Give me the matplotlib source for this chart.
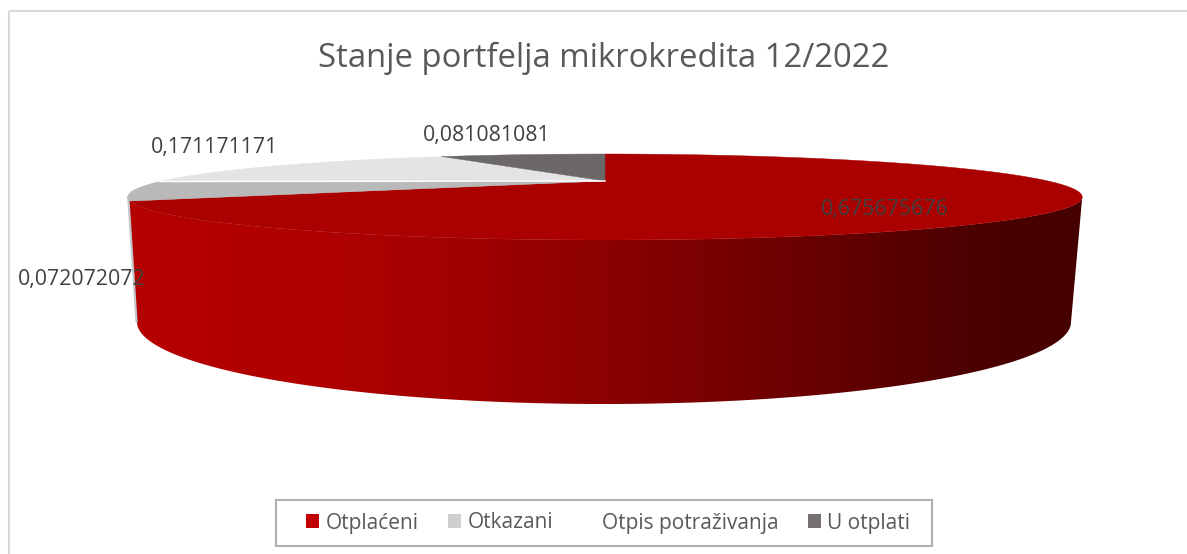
#!/usr/bin/env python3
import numpy as np
import matplotlib
matplotlib.use('Agg')
from matplotlib import pyplot as plt
from matplotlib.colors import LinearSegmentedColormap
from matplotlib.patches import Patch, PathPatch, Rectangle
from matplotlib.path import Path

categories = ['Otplaćeni', 'Otkazani', 'Otpis potraživanja', 'U otplati']
values = [0.675675676, 0.072072072, 0.171171171, 0.081081081]

top_colors = ['#aa0000', '#b9b9b9', '#e4e4e4', '#6c6868']
legend_colors = ['#c00000', '#d0cece', '#ffffff', '#767171']
label_pos = [(885, 209), (82, 279), (214, 147), (487, 135)]

plt.rcParams['font.family'] = ['Open Sans', 'DejaVu Sans']

W, H = 1187, 554
fig = plt.figure(figsize=(W / 100, H / 100), dpi=100)
ax = fig.add_axes([0, 0, 1, 1])
ax.set_xlim(0, W)
ax.set_ylim(H, 0)
ax.axis('off')

# pie apex, and the perspective of the top disc
cx, cy = 605, 181
k = 0.372
b = 443.0
a = 37.05
# bottom rim of the pie, drawn as a plain ellipse
bx, by, brx, bry = 604, 322, 467, 82


def rim(t):
    # t is the math angle in radians, gives pixels on the top disc
    d = 1 + k * np.sin(t)
    return cx + b * np.cos(t) / d, cy - a * np.sin(t) / d


# side wall silhouette: front of the top disc, then front of the bottom rim
t_left = np.pi + np.arcsin(k)
t_right = 2 * np.pi - np.arcsin(k)
t_front = np.linspace(t_left, t_right, 200)
top_x, top_y = rim(t_front)
s = np.linspace(0, np.pi, 200)
bot_x = bx + brx * np.cos(s)
bot_y = by + bry * np.sin(s)
wall = np.column_stack([np.r_[top_x, bot_x], np.r_[top_y, bot_y]])
wall_path = Path(np.vstack([wall, wall[0]]), closed=True)

wall_cmap = LinearSegmentedColormap.from_list('wall', [
    (0.0, '#b60000'), (0.22, '#ae0000'), (0.36, '#a00000'), (0.50, '#8b0000'),
    (0.72, '#680000'), (0.88, '#4c0000'), (1.0, '#450000')])
im = ax.imshow(np.linspace(0, 1, 512)[None, :], cmap=wall_cmap, aspect='auto',
               extent=[top_x[0], top_x[-1], 410, 190], zorder=2)
clip = PathPatch(wall_path, transform=ax.transData, fc='none', ec='none')
ax.add_patch(clip)
im.set_clip_path(clip)
ax.set_xlim(0, W)
ax.set_ylim(H, 0)

# thin grey edge of the wall on the left
ax.plot([top_x[0] + 0.5, bot_x[-1] - 0.5], [top_y[0], bot_y[-1]], color='#c4c8cc',
        lw=1.6, zorder=3, solid_capstyle='round')

# top face, clockwise from twelve o'clock
start = 0.0
for val, col in zip(values, top_colors):
    t = np.pi / 2 - 2 * np.pi * np.linspace(start, start + val, 300)
    x, y = rim(t)
    ax.fill(np.r_[cx, x], np.r_[cy, y], color=col, lw=0.3, zorder=4)
    start += val

# white seam between the two grey slices
seam = np.pi / 2 - 2 * np.pi * (values[0] + values[1])
sx, sy = rim(seam)
ax.plot([cx, sx], [cy, sy], color='white', lw=1.0, zorder=5)

for val, pos in zip(values, label_pos):
    txt = '{:.9f}'.format(val).replace('.', ',')
    ax.text(pos[0], pos[1] + 1, txt, fontsize=15.3, color='#404040',
            ha='center', va='center', zorder=6)

ax.text(604, 58, 'Stanje portfelja mikrokredita 12/2022', fontsize=23.7,
        color='#595959', ha='center', va='center', zorder=6)

# chart frame
ax.add_patch(Rectangle((9, 11), W + 20, H + 20, fc='none', ec='#d9d9d9', lw=1.5, zorder=1))

# legend box is drawn apart, its padding differs in x and y
ax.add_patch(Rectangle((276, 500), 656, 46, fc='white', ec='#b0b0b0', lw=1.5, zorder=6))
handles = [Patch(fc=c, ec='none') for c in legend_colors]
leg = ax.legend(handles, categories, ncol=4, loc='center', fontsize=15,
                bbox_to_anchor=(608, 523), bbox_transform=ax.transData,
                frameon=False, handlelength=0.65, handleheight=0.65, handletextpad=0.3,
                columnspacing=1.4, borderpad=0, labelcolor='#595959')
leg.set_zorder(7)

fig.savefig('out.png', dpi=100)
